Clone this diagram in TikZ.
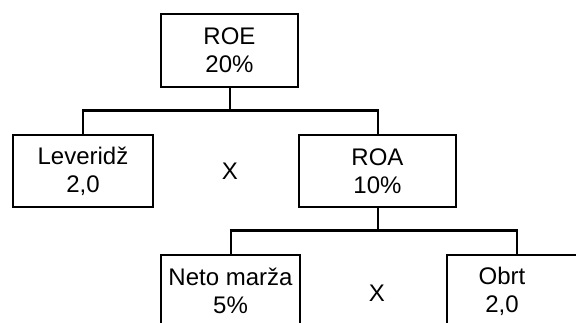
\documentclass[tikz,border=0pt]{standalone}
\usepackage{fontspec}
\setmainfont{Liberation Sans}
\begin{document}
\begin{tikzpicture}[x=1pt,y=-1pt,
  box/.style={draw,line width=2pt,rectangle,inner sep=0pt,align=center,
    font=\fontsize{24}{28}\selectfont},
  label/.style={inner sep=0pt,font=\fontsize{24}{28}\selectfont},
  stem/.style={line width=2pt},
  bar/.style={line width=3pt}]
\useasboundingbox (0,0) rectangle (576,322);
% top level
\node[box,minimum width=137pt,minimum height=73pt] (roe) at (229.5,50.5) {ROE\\20\%};
% second level
\node[box,minimum width=140pt,minimum height=72pt] (lev) at (83,171) {Leveridž\\2,0};
\node[box,minimum width=157pt,minimum height=72pt] (roa) at (377.5,171) {ROA\\10\%};
\node[label] (x1) at (230,171) {X};
% third level
\node[box,minimum width=139pt,minimum height=72pt] (neto) at (230.5,291) {Neto marža\\5\%};
\node[box,minimum width=180pt,minimum height=72pt] (obrt) at (537,291) {};
\node[label,align=center] (obrttxt) at (502,291) {Obrt\\2,0};
\node[label] (x2) at (377,293) {X};
% connectors
\coordinate (j1) at (roe.south |- 0,110);
\coordinate (j1l) at (lev.north |- j1);
\coordinate (j1r) at (roa.north |- j1);
\draw[stem] (roe.south) -- (j1);
\draw[bar] ([xshift=-1pt]j1l) -- ([xshift=1pt]j1r);
\draw[stem] (j1l) -- (lev.north);
\draw[stem] (j1r) -- (roa.north);
\coordinate (j2) at (roa.south |- 0,230);
\coordinate (j2l) at (neto.north |- j2);
\coordinate (j2r) at (517,230);
\draw[stem] (roa.south) -- (j2);
\draw[bar] ([xshift=-1pt]j2l) -- ([xshift=1pt]j2r);
\draw[stem] (j2l) -- (neto.north);
\draw[stem] (j2r) -- (j2r |- obrt.north);
\end{tikzpicture}
\end{document}
